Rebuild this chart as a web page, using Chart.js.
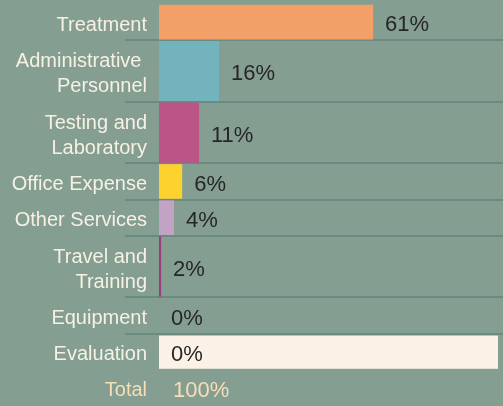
<!DOCTYPE html>
<html>
<head>
<meta charset="utf-8">
<script src="https://cdn.jsdelivr.net/npm/chart.js@4"></script>
<style>
html, body { margin: 0; padding: 0; background: #849e92; }
#wrap { width: 503px; height: 406px; position: relative; }
</style>
</head>
<body>
<div id="wrap"><canvas id="grafico"></canvas></div>
<script>

// categories (two-line labels as arrays, like the wrapped text in the picture)
let categorias = [
"Treatment",
["Administrative ", "Personnel"],
["Testing and", "Laboratory"],
"Office Expense",
"Other Services",
["Travel and", "Training"],
"Equipment",
"Evaluation"
];

// bar lengths (percent of the budget)
let partes = [61, 17.1, 11.4, 6.6, 4.3, 0.6, 0, 0];

// percentages printed next to each bar
let porcentajes = [61, 16, 11, 6, 4, 2, 0, 0];

let colores = ["#f3a068", "#72b3bd", "#bb5588", "#fdd12e", "#c3a3c5", "#9b3d7a", "#9b3d7a", "#9b3d7a"];

let totalLabel = "Total";
let filaResaltada = 7;

let fondoResalte = "#fcf1e6";
let colorTexto = "#f7f1e4";
let colorTotal = "#f9ddb5";
let colorValor = "#262626";
let colorLinea = "#6a8b80";
let fuente = "'Liberation Sans', Arial, sans-serif";

// row heights: a wrapped label takes a taller row
let alturas = categorias.map(c => Array.isArray(c) ? 1.7 : 1);
alturas.push(1);

let centros = [];
let bordes = [];
let acum = 0;
for(let i=0; i<alturas.length; i++){
centros.push(acum + alturas[i] / 2);
acum = acum + alturas[i];
bordes.push(acum);
}
let totalFilas = acum;

let etiquetas = categorias.concat([totalLabel]);
let total = porcentajes.reduce((a, b) => a + b, 0);

let datasets = categorias.map((c, i) => ({
label: Array.isArray(c) ? c.join(" ") : c,
data: [{ x: partes[i], y: centros[i] }],
backgroundColor: colores[i],
borderWidth: 0,
grouped: false,
categoryPercentage: 1,
barPercentage: alturas[i] > 1 ? 1.66 : 0.955
}));

const filas = {
id: "filas",
beforeDatasetsDraw(chart){
let ctx = chart.ctx;
let y = chart.scales.y;
let area = chart.chartArea;
ctx.save();
ctx.strokeStyle = colorLinea;
ctx.lineWidth = 2;
for(let i=0; i<categorias.length - 1; i++){
let py = Math.round(y.getPixelForValue(bordes[i]));
ctx.beginPath();
ctx.moveTo(area.left - 34, py);
ctx.lineTo(chart.width, py);
ctx.stroke();
}
let top = y.getPixelForValue(bordes[filaResaltada - 1]) + 2;
let bottom = y.getPixelForValue(bordes[filaResaltada]) - 1;
ctx.fillStyle = fondoResalte;
ctx.fillRect(area.left, top, area.right - area.left - 5, bottom - top);
ctx.restore();
},
afterDatasetsDraw(chart){
let ctx = chart.ctx;
let area = chart.chartArea;
ctx.save();
ctx.font = "22px " + fuente;
ctx.textAlign = "left";
ctx.textBaseline = "middle";
ctx.fillStyle = colorValor;
for(let i=0; i<categorias.length; i++){
let bar = chart.getDatasetMeta(i).data[0];
let x = Math.max(bar.x, area.left) + 12;
ctx.fillText(porcentajes[i] + "%", x, bar.y + 3);
}
ctx.fillStyle = colorTotal;
let ty = chart.scales.y.getPixelForValue(centros[centros.length - 1]);
ctx.fillText(total + "%", area.left + 14, ty + 3);
ctx.restore();
}
};

let ctx = document.getElementById("grafico").getContext("2d");

window.miGrafico = new Chart(ctx, {

type: "bar",

data: { datasets: datasets },

options: {
indexAxis: "y",
responsive: true,
maintainAspectRatio: false,
devicePixelRatio: 1,
animation: false,
layout: { padding: { top: 4, right: 0, bottom: 0, left: 0 } },
plugins: {
legend: { display: false },
tooltip: { enabled: false }
},
scales: {
x: {
type: "linear",
display: false,
min: 0,
max: 98
},
y: {
type: "linear",
reverse: true,
offset: false,
min: 0,
max: totalFilas,
grid: { display: false, drawTicks: false },
border: { display: false },
afterBuildTicks(scale){
scale.ticks = centros.map(v => ({ value: v }));
},
afterFit(scale){
scale.width = 159;
scale.paddingTop = 0;
scale.paddingBottom = 0;
if(scale._margins){
scale._margins.top = 0;
scale._margins.bottom = 0;
}
},
ticks: {
autoSkip: false,
padding: 12,
labelOffset: 3,
color: c => c.index === etiquetas.length - 1 ? colorTotal : colorTexto,
font: { family: fuente, size: 20, lineHeight: 1.25 },
callback: (value, index) => etiquetas[index]
}
}
}
},

plugins: [filas]

});

</script>
</body>
</html>
